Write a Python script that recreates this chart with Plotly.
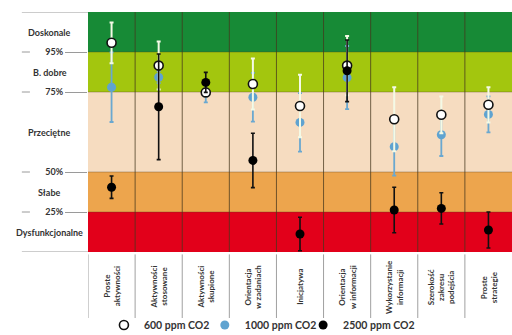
import plotly.graph_objects as go

categories = ["Proste<br>aktywności", "Aktywności<br>stosowane", "Aktywności<br>skupione",
              "Orientacja<br>w zadaniach", "Inicjatywa", "Orientacja<br>w informacji",
              "Wykorzystanie<br>informacji", "Szerokość<br>zakresu<br>podejścia", "Proste<br>strategie"]

# scores on band scale: 0-1 Dysfunkcjonalne, 1-2 Słabe, 2-4 Przeciętne, 4-5 B. dobre, 5-6 Doskonale
ppm600 = [5.23, 4.66, 3.99, 4.20, 3.65, 4.66, 3.32, 3.43, 3.68]
ppm600_err = [0.51, 0.60, 0.10, 0.64, 0.78, 0.74, 0.80, 0.46, 0.44]
ppm1000 = [4.12, 4.37, 3.97, 3.87, 3.24, 4.36, 2.63, 2.93, 3.44]
ppm1000_err = [0.87, 0.15, 0.23, 0.61, 0.73, 0.79, 0.72, 0.53, 0.45]
ppm2500 = [1.62, 3.63, 4.24, 2.29, 0.45, 4.53, 1.05, 1.09, 0.55]
ppm2500_err = [0.28, 1.32, 0.25, 0.68, 0.42, 0.77, 0.57, 0.39, 0.45]

bands = [(0, 1, "#e2001a", "Dysfunkcjonalne"), (1, 2, "#eda54d", "Słabe"),
         (2, 4, "#f6dcc0", "Przeciętne"), (4, 5, "#a3c60e", "B. dobre"),
         (5, 6, "#178a36", "Doskonale")]
pct_vals = [1, 2, 4, 5]
pct_text = ["25%", "50%", "75%", "95%"]

xs = [i + 0.5 for i in range(len(categories))]

fig = go.Figure()
fig.add_trace(go.Scatter(
    x=xs, y=ppm1000, mode="markers", name="1000 ppm CO2", legend="legend2",
    marker=dict(size=9, color="#5fa3d0", line=dict(width=0)),
    error_y=dict(type="data", array=ppm1000_err, color="#6aa8d0", thickness=1.8, width=2)))
fig.add_trace(go.Scatter(
    x=xs, y=ppm600, mode="markers", name="600 ppm CO2", legend="legend",
    marker=dict(size=9, color="white", line=dict(width=1.6, color="#111")),
    error_y=dict(type="data", array=ppm600_err, color="#f4fae6", thickness=2, width=2)))
fig.add_trace(go.Scatter(
    x=xs, y=ppm2500, mode="markers", name="2500 ppm CO2", legend="legend3",
    marker=dict(size=9, color="black", line=dict(width=0)),
    error_y=dict(type="data", array=ppm2500_err, color="#111", thickness=1.6, width=2)))

shapes = []
for y0, y1, col, _ in bands:
    shapes.append(dict(type="rect", xref="x", yref="y", x0=0, x1=9, y0=y0, y1=y1,
                       fillcolor=col, line=dict(width=0), layer="below"))
for v in pct_vals:
    shapes.append(dict(type="line", xref="x", yref="y", x0=0, x1=9, y0=v, y1=v,
                       line=dict(color="rgba(80,60,30,0.35)", width=1), layer="below"))
    shapes.append(dict(type="line", xref="paper", yref="y", x0=-0.156, x1=-0.137, y0=v, y1=v,
                       line=dict(color="#9a9a9a", width=1)))
for i in range(1, 9):
    shapes.append(dict(type="line", xref="x", yref="y", x0=i, x1=i, y0=0, y1=6,
                       line=dict(color="rgba(70,55,30,0.75)", width=1), layer="below"))
for i in range(0, 9):
    shapes.append(dict(type="line", xref="x", yref="paper", x0=i, x1=i, y0=-0.01, y1=-0.275,
                       line=dict(color="#a0a0a0", width=1)))
for yv in [0, 6]:
    shapes.append(dict(type="line", xref="paper", yref="y", x0=-0.156, x1=0, y0=yv, y1=yv,
                       line=dict(color="#9a9a9a", width=1)))

annotations = []
for y0, y1, _, lab in bands:
    annotations.append(dict(xref="paper", yref="y", x=-0.09, y=(y0 + y1) / 2, text="<b>" + lab + "</b>",
                            showarrow=False, xanchor="center", yanchor="middle",
                            font=dict(family="Lato", size=9, color="#333")))
for i, c in enumerate(categories):
    annotations.append(dict(xref="x", yref="paper", x=xs[i], y=-0.145, text="<b>" + c + "</b>",
                            textangle=-90, showarrow=False, xanchor="center", yanchor="middle",
                            font=dict(family="Lato", size=8, color="#333")))

leg_common = dict(orientation="h", xref="container", yref="container", xanchor="left",
                  y=0.03, yanchor="middle", itemwidth=30, bgcolor="rgba(0,0,0,0)",
                  font=dict(family="Lato", size=10.5, color="#333", weight="bold"))

fig.update_layout(
    width=512, height=335,
    margin=dict(l=88, r=0, t=12, b=83, autoexpand=False),
    paper_bgcolor="white", plot_bgcolor="white",
    showlegend=True,
    legend=dict(x=0.203, **leg_common),
    legend2=dict(x=0.400, **leg_common),
    legend3=dict(x=0.592, **leg_common),
    xaxis=dict(range=[0, 9], showgrid=False, zeroline=False, showticklabels=False, ticks="",
               fixedrange=True, automargin=False),
    yaxis=dict(range=[0, 6], showgrid=False, zeroline=False, tickvals=pct_vals, ticktext=pct_text,
               ticks="outside", ticklen=22, tickcolor="#9a9a9a", tickwidth=1, automargin=False,
               tickfont=dict(family="Lato", size=9, color="#333", weight="bold"), fixedrange=True),
    shapes=shapes, annotations=annotations,
)
fig.write_html("out.html", config={"displayModeBar": False},
               post_script="document.body.style.margin='0';document.body.style.padding='0';")
